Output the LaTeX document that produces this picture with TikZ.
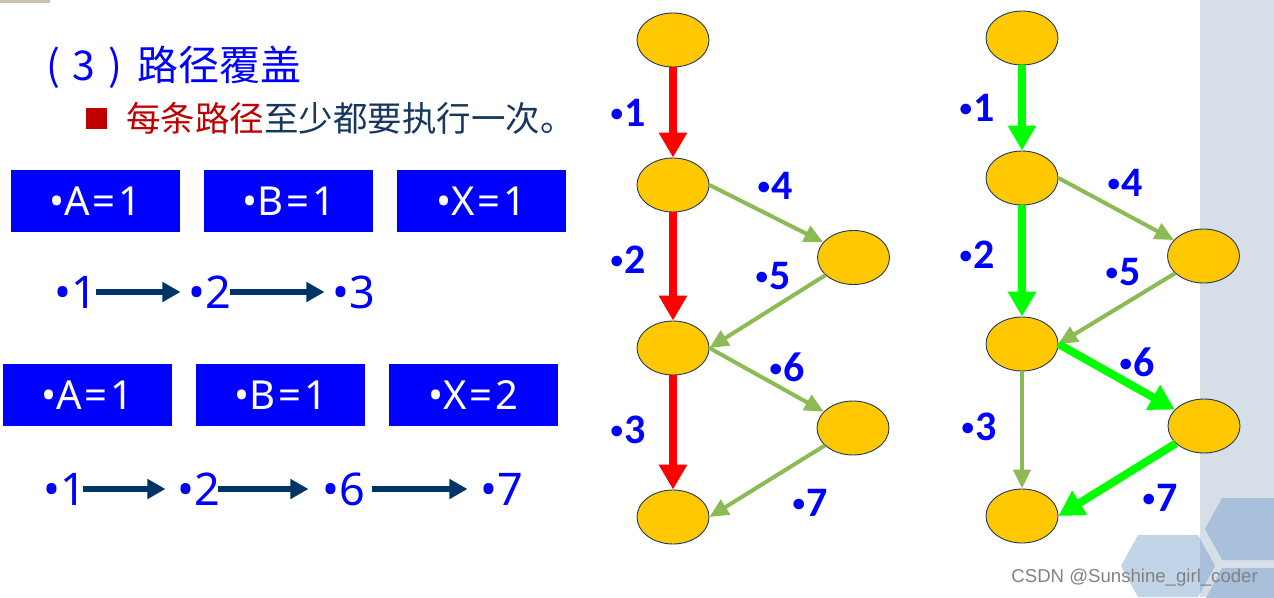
\documentclass[tikz,border=0pt]{standalone}
\usepackage{fontspec}
\setmainfont{Noto Sans}
\newfontfamily\cjk{Noto Sans CJK SC}
\newfontfamily\labfont{Carlito}
\newfontfamily\wmfont{Liberation Sans}
\usetikzlibrary{arrows.meta,shapes.geometric}
\definecolor{ndfill}{RGB}{255,200,0}
\definecolor{ndborder}{RGB}{31,56,100}
\definecolor{edgeolive}{RGB}{140,187,86}
\definecolor{brightgreen}{RGB}{0,255,0}
\definecolor{labblue}{RGB}{0,0,255}
\definecolor{navyarrow}{RGB}{0,51,102}
\definecolor{darkred}{RGB}{192,0,0}
\definecolor{subnavy}{RGB}{23,55,94}
\definecolor{panel}{RGB}{214,222,231}
\definecolor{hexlight}{RGB}{194,212,232}
\definecolor{hexdark}{RGB}{169,192,219}
\definecolor{tanbar}{RGB}{200,195,170}
\definecolor{wmgray}{RGB}{130,130,130}
\tikzset{
  nd/.style={ellipse, draw=ndborder, line width=0.9pt, fill=ndfill,
    minimum width=72pt, minimum height=54pt, inner sep=0pt},
  rededge/.style={draw=red, line width=8pt, -{Triangle[length=25pt,width=27pt]}},
  greenedge/.style={draw=brightgreen, line width=8pt, -{Triangle[length=25pt,width=27pt]}},
  oliveedge/.style={draw=edgeolive, line width=4pt, -{Triangle[length=19pt,width=17pt]}},
  glab/.style={text=labblue, inner sep=0pt, font=\labfont\bfseries\fontsize{42}{44}\selectfont},
  vbox/.style={fill=labblue, text=white, minimum width=169pt, minimum height=62pt,
    inner sep=0pt, font=\fontsize{40}{44}\selectfont},
  seqlab/.style={text=labblue, inner sep=0pt, font=\fontsize{45}{48}\selectfont},
  seqarrow/.style={draw=navyarrow, line width=6pt, -{Triangle[length=18pt,width=19pt]}},
}
\newcommand{\eqsp}{\hspace{3pt}=\hspace{3pt}}
\newcommand{\gb}{{\fontsize{25}{27}\selectfont\raisebox{5pt}{•}}\hspace{1pt}}
\begin{document}
\begin{tikzpicture}[x=1pt,y=-1pt]
\useasboundingbox (0,0) rectangle (1274,597);
\fill[white] (0,0) rectangle (1274,597);
% background decoration
\fill[panel] (1200,0) rectangle (1274,597);
\fill[tanbar] (0,0) rectangle (50,3);
\fill[hexlight] (1121,566) -- (1138,535) -- (1198,535) -- (1215,566) -- (1198,597) -- (1138,597) -- cycle;
\begin{scope}
  \clip (1200,0) rectangle (1274,597);
  \fill[hexdark] (1121,566) -- (1138,535) -- (1198,535) -- (1215,566) -- (1198,597) -- (1138,597) -- cycle;
\end{scope}
\fill[hexdark] (1222,498) -- (1290,498) -- (1290,560) -- (1222,560) -- (1205,529) -- cycle;
\fill[hexdark] (1222,568) -- (1290,568) -- (1290,600) -- (1205,600) -- cycle;

% title and subtitle
\node[anchor=base west, inner sep=0pt, text=labblue, font=\cjk\fontsize{41}{45}\selectfont] (title) at (46,80)
  {(\hspace{12pt}3\hspace{14pt})\hspace{15pt}路径覆盖};
\node[fill=darkred, minimum width=21pt, minimum height=21pt, inner sep=0pt] (sq) at (96.5,118.5) {};
\node[anchor=base west, inner sep=0pt, font=\cjk\fontsize{34.5}{38}\selectfont] (sub) at (126,131)
  {\textcolor{darkred}{每条路径}\textcolor{subnavy}{至少都要执行一次。}};

% value boxes
\node[vbox] (a1) at (95.5,201) {•A\eqsp1};
\node[vbox] (b1) at (288.5,201) {•B\eqsp1};
\node[vbox] (x1) at (481.5,201) {•X\eqsp1};
\node[vbox] (a2) at (87.5,395) {•A\eqsp1};
\node[vbox] (b2) at (280.5,395) {•B\eqsp1};
\node[vbox] (x2) at (473.5,395) {•X\eqsp2};

% path sequences
\node[seqlab] (p11) at (76,292) {•1};
\node[seqlab] (p12) at (210,292) {•2};
\node[seqlab] (p13) at (354,292) {•3};
\draw[seqarrow] ([xshift=-2pt]p11.east) -- ([xshift=-8pt]p12.west);
\draw[seqarrow] ([xshift=-2pt]p12.east) -- ([xshift=-8pt]p13.west);
\node[seqlab] (p21) at (65,489) {•1};
\node[seqlab] (p22) at (199,489) {•2};
\node[seqlab] (p26) at (344,489) {•6};
\node[seqlab] (p27) at (502,489) {•7};
\draw[seqarrow] ([xshift=-4pt]p21.east) -- ([xshift=-12pt]p22.west);
\draw[seqarrow] ([xshift=-3pt]p22.east) -- ([xshift=-14pt]p26.west);
\draw[seqarrow] ([xshift=6pt]p26.east) -- ([xshift=-13pt]p27.west);

% left graph
\node[nd] (L1) at (673,40) {};
\node[nd] (L2) at (673,185) {};
\node[nd] (L4) at (853.5,257.5) {};
\node[nd] (L3) at (673,348) {};
\node[nd] (L5) at (853,428) {};
\node[nd] (L6) at (673,517) {};
\draw[oliveedge] (L2.east) -- (L4);
\draw[oliveedge] (L4) -- (L3.east);
\draw[oliveedge] (L3.east) -- (L5);
\draw[oliveedge] (L5) -- (L6.east);
\draw[rededge] (L1) -- (L2);
\draw[rededge] (L2) -- (L3);
\draw[rededge] (L3) -- (L6);
\node[glab] (la1) at (628,113) {\gb1};
\node[glab] (la2) at (628,260) {\gb2};
\node[glab] (la3) at (628,430) {\gb3};
\node[glab] (la4) at (775,186) {\gb4};
\node[glab] (la5) at (773,276) {\gb5};
\node[glab] (la6) at (787,367) {\gb6};
\node[glab] (la7) at (810,503) {\gb7};

% right graph
\node[nd] (R1) at (1022,38) {};
\node[nd] (R2) at (1022,178) {};
\node[nd] (R4) at (1203.5,256) {};
\node[nd] (R3) at (1022,344) {};
\node[nd] (R5) at (1204,426) {};
\node[nd] (R6) at (1022,516) {};
\draw[oliveedge] (R2.east) -- (R4);
\draw[oliveedge] (R4) -- (R3.east);
\draw[oliveedge] (R3) -- (R6);
\draw[greenedge] (R1) -- (R2);
\draw[greenedge] (R2) -- (R3);
\draw[greenedge] (R3.east) -- (R5);
\draw[greenedge] (R5) -- (R6.east);
\node[glab] (ra1) at (977,108) {\gb1};
\node[glab] (ra2) at (977,255) {\gb2};
\node[glab] (ra3) at (979,427) {\gb3};
\node[glab] (ra4) at (1125,183) {\gb4};
\node[glab] (ra5) at (1123,272) {\gb5};
\node[glab] (ra6) at (1137,362) {\gb6};
\node[glab] (ra7) at (1160,498) {\gb7};

% watermark
\node[anchor=east, inner sep=0pt, text=wmgray, font=\wmfont\fontsize{18.6}{20}\selectfont] (wm) at (1258,578)
  {CSDN @Sunshine\_girl\_coder};
\end{tikzpicture}
\end{document}
